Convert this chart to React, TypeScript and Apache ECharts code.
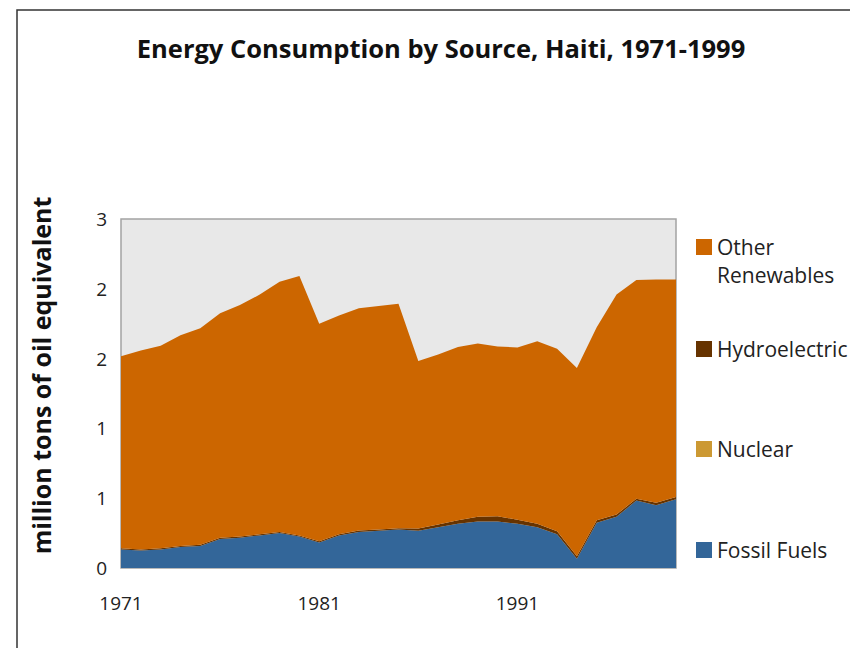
import React, { useEffect, useRef } from "react";
import * as echarts from "echarts";

const years = [
  "1971", "1972", "1973", "1974", "1975", "1976", "1977", "1978", "1979", "1980",
  "1981", "1982", "1983", "1984", "1985", "1986", "1987", "1988", "1989", "1990",
  "1991", "1992", "1993", "1994", "1995", "1996", "1997", "1998", "1999",
];

const fossilFuels = [
  0.16, 0.15, 0.16, 0.18, 0.19, 0.25, 0.26, 0.28, 0.3, 0.27,
  0.22, 0.28, 0.31, 0.32, 0.33, 0.32, 0.35, 0.38, 0.4, 0.4,
  0.38, 0.35, 0.29, 0.08, 0.39, 0.44, 0.58, 0.54, 0.59,
];

const nuclear = [
  0, 0, 0, 0, 0, 0, 0, 0, 0, 0,
  0, 0, 0, 0, 0, 0, 0, 0, 0, 0,
  0, 0, 0, 0, 0, 0, 0, 0, 0,
];

const hydroelectric = [
  0.01, 0.01, 0.01, 0.01, 0.01, 0.01, 0.01, 0.01, 0.01, 0.01,
  0.01, 0.01, 0.012, 0.012, 0.012, 0.02, 0.025, 0.03, 0.04, 0.045,
  0.035, 0.03, 0.025, 0.02, 0.02, 0.02, 0.015, 0.02, 0.02,
];

const otherRenewables = [
  1.65, 1.71, 1.74, 1.81, 1.86, 1.93, 1.99, 2.06, 2.15, 2.23,
  1.87, 1.88, 1.91, 1.92, 1.93, 1.44, 1.46, 1.49, 1.49, 1.46,
  1.48, 1.57, 1.57, 1.62, 1.66, 1.89, 1.88, 1.92, 1.87,
];

const colors = {
  fossil: "#336699",
  nuclear: "#CC9933",
  hydro: "#663300",
  other: "#CC6600",
};

const FONT = "'Open Sans', 'Noto Sans', sans-serif";

export default function App() {
  const ref = useRef<HTMLDivElement>(null);

  useEffect(() => {
    if (!ref.current) return;
    const chart = echarts.init(ref.current, undefined, { renderer: "svg" });

    const mkSeries = (name: string, data: number[], color: string) => ({
      name,
      type: "line",
      stack: "total",
      data,
      symbol: "none",
      showSymbol: false,
      lineStyle: { width: 0, color },
      itemStyle: { color },
      areaStyle: { color, opacity: 1 },
    });

    const legendBase = {
      orient: "vertical",
      left: 696,
      padding: 0,
      itemWidth: 16,
      itemHeight: 16,
      itemGap: 0,
      itemTextGap: 6,
      icon: "rect",
      selectedMode: false,
      textStyle: { fontFamily: FONT, fontSize: 21, color: "#222", lineHeight: 28 },
    };

    chart.setOption({
      animation: false,
      backgroundColor: "#ffffff",
      title: {
        text: "Energy Consumption by Source, Haiti, 1971-1999",
        left: 436,
        top: 30,
        textAlign: "center",
        textStyle: { fontFamily: FONT, fontSize: 25.5, fontWeight: "bold", color: "#111" },
      },
      legend: [
        {
          ...legendBase,
          top: 205,
          data: ["Other Renewables"],
          formatter: () => "\nOther\nRenewables",
        },
        { ...legendBase, top: 335, data: ["Hydroelectric"] },
        { ...legendBase, top: 435, data: ["Nuclear"] },
        { ...legendBase, top: 536, data: ["Fossil Fuels"] },
      ],
      grid: {
        left: 121,
        top: 219,
        right: 174,
        bottom: 80,
        show: true,
        backgroundColor: "#E8E8E8",
        borderColor: "#A3A3A3",
        borderWidth: 1.5,
        containLabel: false,
      },
      xAxis: {
        type: "category",
        data: years,
        boundaryGap: false,
        axisLine: { show: false },
        axisTick: { show: false },
        axisLabel: {
          interval: 9,
          margin: 25,
          fontFamily: FONT,
          fontSize: 19,
          color: "#222",
        },
        splitLine: { show: false },
      },
      yAxis: {
        type: "value",
        min: 0,
        max: 3,
        interval: 0.6,
        name: "million tons of oil equivalent",
        nameLocation: "middle",
        nameRotate: 90,
        nameGap: 68,
        nameTextStyle: {
          fontFamily: FONT,
          fontSize: 25,
          fontWeight: "bold",
          color: "#111",
          padding: [0, 0, 0, 36],
        },
        axisLine: { show: false },
        axisTick: { show: false },
        splitLine: { show: false },
        axisLabel: {
          margin: 14,
          fontFamily: FONT,
          fontSize: 19,
          color: "#222",
          formatter: (v: number) => String(Math.round(v)),
        },
      },
      graphic: [
        {
          type: "rect",
          shape: { x: 17, y: 10, width: 900, height: 700 },
          style: { fill: "none", stroke: "#333", lineWidth: 1.5 },
          silent: true,
          z: 100,
        },
      ],
      series: [
        mkSeries("Fossil Fuels", fossilFuels, colors.fossil),
        mkSeries("Nuclear", nuclear, colors.nuclear),
        mkSeries("Hydroelectric", hydroelectric, colors.hydro),
        mkSeries("Other Renewables", otherRenewables, colors.other),
      ],
    });

    return () => chart.dispose();
  }, []);

  return (
    <div
      ref={ref}
      style={{ position: "fixed", left: 0, top: 0, width: 850, height: 648 }}
    />
  );
}
